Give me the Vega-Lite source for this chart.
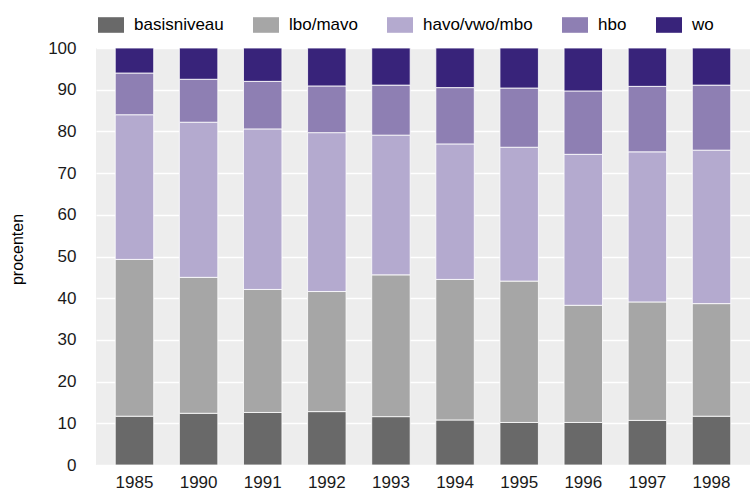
{
  "$schema": "https://vega.github.io/schema/vega-lite/v6.json",
  "autosize": "none",
  "width": 654,
  "height": 417,
  "padding": {"left": 96, "top": 48, "right": 0, "bottom": 26},
  "background": "white",
  "config": {
    "font": "Liberation Sans",
    "view": {"fill": "#ededed", "stroke": null},
    "axis": {"domain": false, "ticks": false, "tickSize": 0, "labelColor": "#1a1a1a", "labelFont": "Liberation Sans", "titleFont": "Liberation Sans", "titleFontWeight": "normal", "titleColor": "#000000"},
    "legend": {"labelFont": "Liberation Sans"}
  },
  "data": {
    "values": [
      {"year": "1985", "level": "basisniveau", "value": 11.7},
      {"year": "1985", "level": "lbo/mavo", "value": 37.6},
      {"year": "1985", "level": "havo/vwo/mbo", "value": 34.7},
      {"year": "1985", "level": "hbo", "value": 10.0},
      {"year": "1985", "level": "wo", "value": 6.0},
      {"year": "1990", "level": "basisniveau", "value": 12.4},
      {"year": "1990", "level": "lbo/mavo", "value": 32.6},
      {"year": "1990", "level": "havo/vwo/mbo", "value": 37.2},
      {"year": "1990", "level": "hbo", "value": 10.3},
      {"year": "1990", "level": "wo", "value": 7.5},
      {"year": "1991", "level": "basisniveau", "value": 12.6},
      {"year": "1991", "level": "lbo/mavo", "value": 29.5},
      {"year": "1991", "level": "havo/vwo/mbo", "value": 38.5},
      {"year": "1991", "level": "hbo", "value": 11.4},
      {"year": "1991", "level": "wo", "value": 8.0},
      {"year": "1992", "level": "basisniveau", "value": 12.8},
      {"year": "1992", "level": "lbo/mavo", "value": 28.8},
      {"year": "1992", "level": "havo/vwo/mbo", "value": 38.1},
      {"year": "1992", "level": "hbo", "value": 11.2},
      {"year": "1992", "level": "wo", "value": 9.1},
      {"year": "1993", "level": "basisniveau", "value": 11.6},
      {"year": "1993", "level": "lbo/mavo", "value": 34.0},
      {"year": "1993", "level": "havo/vwo/mbo", "value": 33.5},
      {"year": "1993", "level": "hbo", "value": 12.0},
      {"year": "1993", "level": "wo", "value": 8.9},
      {"year": "1994", "level": "basisniveau", "value": 10.8},
      {"year": "1994", "level": "lbo/mavo", "value": 33.7},
      {"year": "1994", "level": "havo/vwo/mbo", "value": 32.5},
      {"year": "1994", "level": "hbo", "value": 13.5},
      {"year": "1994", "level": "wo", "value": 9.5},
      {"year": "1995", "level": "basisniveau", "value": 10.2},
      {"year": "1995", "level": "lbo/mavo", "value": 33.9},
      {"year": "1995", "level": "havo/vwo/mbo", "value": 32.1},
      {"year": "1995", "level": "hbo", "value": 14.2},
      {"year": "1995", "level": "wo", "value": 9.6},
      {"year": "1996", "level": "basisniveau", "value": 10.2},
      {"year": "1996", "level": "lbo/mavo", "value": 28.1},
      {"year": "1996", "level": "havo/vwo/mbo", "value": 36.2},
      {"year": "1996", "level": "hbo", "value": 15.2},
      {"year": "1996", "level": "wo", "value": 10.3},
      {"year": "1997", "level": "basisniveau", "value": 10.7},
      {"year": "1997", "level": "lbo/mavo", "value": 28.4},
      {"year": "1997", "level": "havo/vwo/mbo", "value": 36.0},
      {"year": "1997", "level": "hbo", "value": 15.7},
      {"year": "1997", "level": "wo", "value": 9.2},
      {"year": "1998", "level": "basisniveau", "value": 11.7},
      {"year": "1998", "level": "lbo/mavo", "value": 27.0},
      {"year": "1998", "level": "havo/vwo/mbo", "value": 36.8},
      {"year": "1998", "level": "hbo", "value": 15.6},
      {"year": "1998", "level": "wo", "value": 8.9}
    ]
  },
  "transform": [
    {"calculate": "indexof(['basisniveau', 'lbo/mavo', 'havo/vwo/mbo', 'hbo', 'wo'], datum.level)", "as": "stackOrder"}
  ],
  "mark": {"type": "bar", "stroke": "white", "strokeWidth": 0.8},
  "encoding": {
    "x": {
      "field": "year", "type": "nominal",
      "scale": {"paddingInner": 0.4, "paddingOuter": 0.3},
      "axis": {"title": null, "labelAngle": 0, "labelFontSize": 17, "labelPadding": 9, "grid": false}
    },
    "y": {
      "field": "value", "type": "quantitative", "stack": "zero",
      "scale": {"domain": [0, 100], "nice": false, "zero": true},
      "axis": {"title": "procenten", "values": [0,10,20,30,40,50,60,70,80,90,100], "labelFontSize": 17, "labelPadding": 20, "grid": true, "gridColor": "white", "gridWidth": 1.5, "titleFontSize": 16, "titlePadding": 22, "titleY": 201}
    },
    "color": {
      "field": "level", "type": "nominal",
      "scale": {
        "domain": ["basisniveau", "lbo/mavo", "havo/vwo/mbo", "hbo", "wo"],
        "range": ["#696969", "#a6a6a6", "#b4aacf", "#8e7fb3", "#38237a"]
      },
      "legend": {
        "title": null, "orient": "none", "direction": "horizontal",
        "legendX": 2, "legendY": -36, "padding": 0,
        "symbolType": "M-1,-0.6H1V0.6H-1Z", "symbolSize": 676, "symbolStrokeWidth": 0,
        "labelFontSize": 17, "labelOffset": 10, "columnPadding": 29, "labelColor": "#000000"
      }
    },
    "order": {"field": "stackOrder", "type": "quantitative", "sort": "ascending"}
  }
}
